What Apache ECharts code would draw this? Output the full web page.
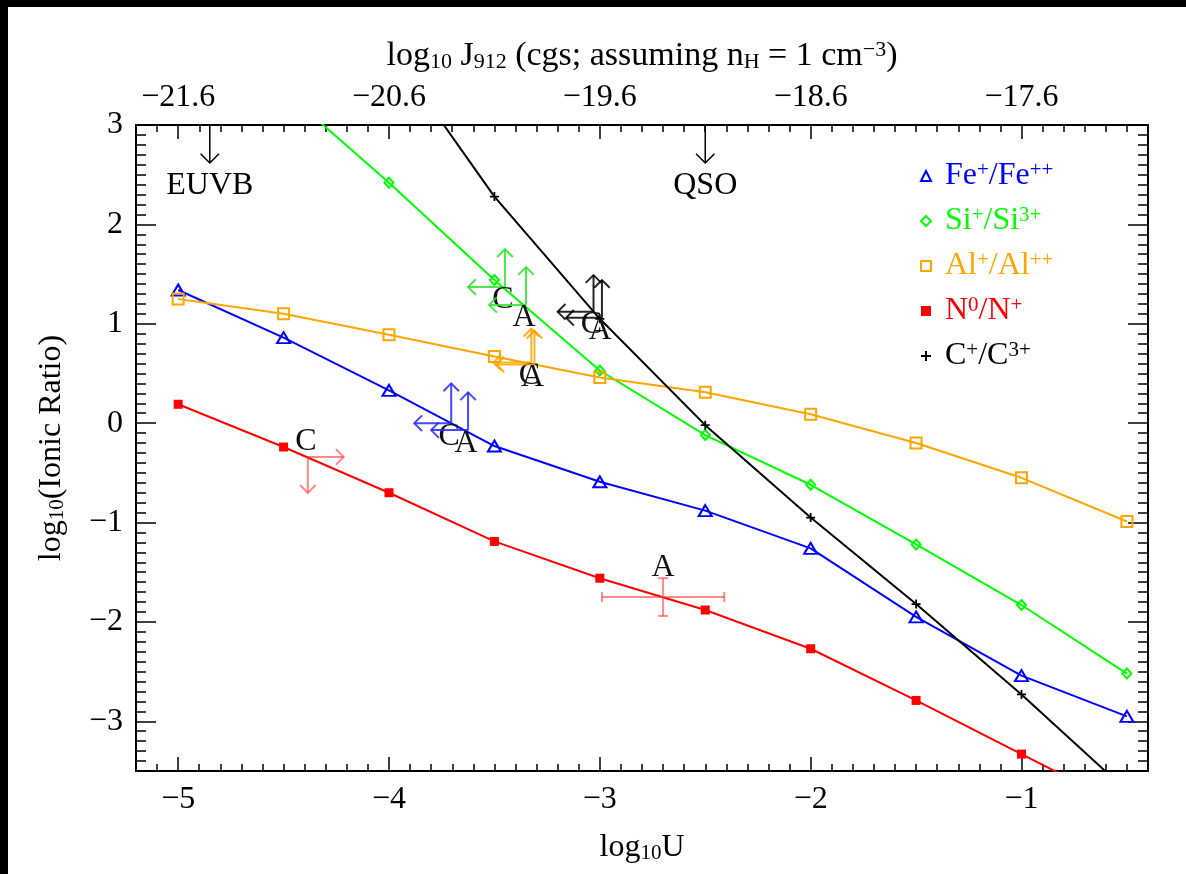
<!DOCTYPE html>
<html>
<head>
<meta charset="utf-8">
<script src="https://cdn.jsdelivr.net/npm/echarts@6/dist/echarts.min.js"></script>
<style>
  html, body { margin: 0; padding: 0; width: 1186px; height: 874px; background: #000; overflow: hidden; }
  #chart { position: absolute; left: 8px; top: 7px; width: 1178px; height: 867px; background: #fff; }
</style>
</head>
<body>
<div id="chart"></div>
<script>
// Ionisation parameter grid of the photoionisation models
const logU = [-5, -4.5, -4, -3.5, -3, -2.5, -2, -1.5, -1, -0.5];

// log10 of the ionic ratios predicted at each log U (null = not computed / off the plot)
const feRatio = [1.34, 0.86, 0.33, -0.23, -0.59, -0.88, -1.26, -1.95, -2.54, -2.95];
const siRatio = [null, 3.35, 2.42, 1.44, 0.53, -0.12, -0.62, -1.22, -1.83, -2.52];
const alRatio = [1.25, 1.10, 0.89, 0.67, 0.46, 0.31, 0.09, -0.20, -0.55, -0.99];
const nRatio  = [0.19, -0.24, -0.70, -1.19, -1.56, -1.88, -2.27, -2.79, -3.33, -3.87];
const cRatio  = [null, null, 3.78, 2.28, 1.05, -0.02, -0.95, -1.82, -2.73, -3.70];

// Observed limits for absorbers C and A: [logU, ratio, U-limit arrow, ratio-limit arrow]
const feLimits = [{ name: 'C', value: [-3.705, 0.00, -0.175, 0.40] }, { name: 'A', value: [-3.625, -0.07, -0.175, 0.38] }];
const siLimits = [{ name: 'C', value: [-3.45, 1.37, -0.175, 0.38] },  { name: 'A', value: [-3.35, 1.19, -0.175, 0.38] }];
const alLimits = [{ name: 'C', value: [-3.325, 0.61, -0.18, 0.34] },  { name: 'A', value: [-3.31, 0.59, -0.18, 0.34] }];
const cLimits  = [{ name: 'C', value: [-3.03, 1.12, -0.17, 0.37] },   { name: 'A', value: [-2.99, 1.06, -0.17, 0.38] }];
const nLimits  = [{ name: 'C', value: [-4.385, -0.34, 0.17, -0.36] }];
// Measured N0/N+ with errors: [logU, ratio, logU error, ratio error]
const nMeasure = [{ name: 'A', value: [-2.70, -1.75, 0.29, 0.19] }];

// Ionising-background reference values of log U
const sedMarks = [{ name: 'EUVB', value: -4.85 }, { name: 'QSO', value: -2.5 }];

// Axes
const uRange = [-5.2, -0.4];
const jRange = [-21.8, -17.0];
const ratioRange = [-3.5, 3];
const uTicks = [-5, -4, -3, -2, -1];
const jTicks = [-21.6, -20.6, -19.6, -18.6, -17.6];
const ratioTicks = [-3, -2, -1, 0, 1, 2, 3];

// Legend entries: [base, superscript, base, superscript]
const ionLabels = {
  Fe: ['Fe', '+', '/Fe', '++'],
  Si: ['Si', '+', '/Si', '3+'],
  Al: ['Al', '+', '/Al', '++'],
  N:  ['N', '0', '/N', '+'],
  C:  ['C', '+', '/C', '3+']
};

const FONT = '"Liberation Serif", "Times New Roman", serif';
const FS = 32, FS_SMALL = 21;
const colors = { Fe: '#0000ff', Si: '#00ff00', Al: '#ffa500', N: '#ff0000', C: '#000000' };
const limitColors = { Fe: 'rgba(40,40,255,0.85)', Si: 'rgba(40,230,40,0.85)', Al: 'rgba(255,165,0,0.85)', N: 'rgba(255,60,60,0.6)', C: 'rgba(0,0,0,0.85)' };
const plusPath = 'path://M4,0H6V4H10V6H6V10H4V6H0V4H4Z';

const minus = v => String(v).replace('-', '\u2212');

function richSet(size, small) {
  return {
    t: { fontFamily: FONT, fontSize: size, color: '#000', lineHeight: size },
    s: { fontFamily: FONT, fontSize: small, color: '#000', lineHeight: 14, verticalAlign: 'bottom' },
    p: { fontFamily: FONT, fontSize: small, color: '#000', lineHeight: 14, verticalAlign: 'top' }
  };
}
const textRich = richSet(FS, FS_SMALL);
const topTitleRich = richSet(34, 22);

const legendRich = {};
Object.keys(colors).forEach(k => {
  legendRich[k] = { fontFamily: FONT, fontSize: FS, color: colors[k], lineHeight: FS };
  legendRich[k + 'Sup'] = { fontFamily: FONT, fontSize: FS_SMALL, color: colors[k], lineHeight: 14, verticalAlign: 'top' };
});

const tickLine = { color: '#000', width: 1.5 };
const labelStyle = { color: '#000', fontFamily: FONT, fontSize: FS };

function majorAxis(pos, range, ticks, len, extra) {
  return Object.assign({
    type: 'value', position: pos, min: range[0], max: range[1],
    axisLine: { show: true, onZero: false, lineStyle: { color: '#000', width: 2 } },
    axisTick: { show: true, inside: true, length: len, customValues: ticks, lineStyle: tickLine },
    axisLabel: { show: false },
    splitLine: { show: false }
  }, extra || {});
}
function minorAxis(pos, range, len) {
  return {
    type: 'value', position: pos, min: range[0], max: range[1], interval: 0.1,
    axisLine: { show: false, onZero: false },
    axisTick: { show: true, inside: true, length: len, lineStyle: tickLine },
    axisLabel: { show: false },
    splitLine: { show: false }
  };
}

function arrow(from, to, color, width, head) {
  const dx = to[0] - from[0], dy = to[1] - from[1];
  const len = Math.hypot(dx, dy) || 1;
  const bx = -dx / len, by = -dy / len;
  const h = head || 11, c = Math.cos(Math.PI / 4), s = Math.sin(Math.PI / 4);
  const p1 = [to[0] + h * (bx * c - by * s), to[1] + h * (bx * s + by * c)];
  const p2 = [to[0] + h * (bx * c + by * s), to[1] + h * (-bx * s + by * c)];
  return [
    { type: 'line', shape: { x1: from[0], y1: from[1], x2: to[0], y2: to[1] }, style: { stroke: color, lineWidth: width } },
    { type: 'polyline', shape: { points: [p1, to, p2] }, style: { stroke: color, lineWidth: width, fill: null } }
  ];
}

function ionSeries(key, values, symbol, symbolSize, filled) {
  const color = colors[key];
  return {
    type: 'line', name: key,
    data: logU.map((u, i) => [u, values[i] === null ? '-' : values[i]]),
    xAxisIndex: 0, yAxisIndex: 0,
    symbol, symbolSize, showSymbol: true, clip: true,
    lineStyle: { color, width: 2 },
    itemStyle: filled ? { color } : { color: 'rgba(255,255,255,0)', borderColor: color, borderWidth: 2 },
    emphasis: { disabled: true }, silent: true, z: 3
  };
}

function limitSeries(key, data) {
  const color = limitColors[key];
  return {
    type: 'custom', xAxisIndex: 0, yAxisIndex: 0, silent: true, z: 5,
    data: data.map(d => d.value),
    renderItem(params, api) {
      const x = api.value(0), y = api.value(1), dx = api.value(2), dy = api.value(3);
      const o = api.coord([x, y]);
      const th = api.coord([x + dx, y]);
      const tv = api.coord([x, y + dy]);
      const off = dy > 0 ? 13 : -15;
      return {
        type: 'group',
        children: [
          ...arrow(o, th, color, 2),
          ...arrow(o, tv, color, 2),
          { type: 'text', x: o[0] - 2, y: o[1] + off,
            style: { text: data[params.dataIndex].name, fill: '#111', font: FS + 'px ' + FONT, align: 'center', verticalAlign: 'middle' } }
        ]
      };
    }
  };
}

const measureSeries = {
  type: 'custom', xAxisIndex: 0, yAxisIndex: 0, silent: true, z: 5,
  data: nMeasure.map(d => d.value),
  renderItem(params, api) {
    const x = api.value(0), y = api.value(1), ex = api.value(2), ey = api.value(3);
    const l = api.coord([x - ex, y]), r = api.coord([x + ex, y]);
    const t = api.coord([x, y + ey]), b = api.coord([x, y - ey]);
    const st = { stroke: limitColors.N, lineWidth: 2 };
    const cap = 5;
    return {
      type: 'group',
      children: [
        { type: 'line', shape: { x1: l[0], y1: l[1], x2: r[0], y2: r[1] }, style: st },
        { type: 'line', shape: { x1: t[0], y1: t[1], x2: b[0], y2: b[1] }, style: st },
        { type: 'line', shape: { x1: l[0], y1: l[1] - cap, x2: l[0], y2: l[1] + cap }, style: st },
        { type: 'line', shape: { x1: r[0], y1: r[1] - cap, x2: r[0], y2: r[1] + cap }, style: st },
        { type: 'line', shape: { x1: t[0] - cap, y1: t[1], x2: t[0] + cap, y2: t[1] }, style: st },
        { type: 'line', shape: { x1: b[0] - cap, y1: b[1], x2: b[0] + cap, y2: b[1] }, style: st },
        { type: 'text', x: t[0], y: t[1] - 11,
          style: { text: nMeasure[params.dataIndex].name, fill: '#111', font: FS + 'px ' + FONT, align: 'center', verticalAlign: 'middle' } }
      ]
    };
  }
};

const sedSeries = {
  type: 'custom', xAxisIndex: 0, yAxisIndex: 0, silent: true, z: 5,
  data: sedMarks.map(d => [d.value, ratioRange[1]]),
  renderItem(params, api) {
    const top = api.coord([api.value(0), api.value(1)]);
    const tip = [top[0], top[1] + 38];
    return {
      type: 'group',
      children: [
        ...arrow(top, tip, '#000', 1.5, 13),
        { type: 'text', x: top[0], y: top[1] + 61,
          style: { text: sedMarks[params.dataIndex].name, fill: '#000', font: FS + 'px ' + FONT, align: 'center', verticalAlign: 'middle' } }
      ]
    };
  }
};

const chart = echarts.init(document.getElementById('chart'), null, { renderer: 'canvas' });
chart.setOption({
  animation: false,
  backgroundColor: '#fff',
  grid: { left: 128, right: 38, top: 118, bottom: 103, containLabel: false },
  legend: {
    orient: 'vertical', left: 907, top: 148, itemGap: 13,
    itemWidth: 10, itemHeight: 10, selectedMode: false,
    data: [
      { name: 'Fe', icon: 'triangle' },
      { name: 'Si', icon: 'diamond' },
      { name: 'Al', icon: 'rect' },
      { name: 'N', icon: 'rect' },
      { name: 'C', icon: plusPath }
    ],
    formatter: name => {
      const p = ionLabels[name];
      return `{${name}|${p[0]}}{${name}Sup|${p[1]}}{${name}|${p[2]}}{${name}Sup|${p[3]}}`;
    },
    textStyle: { fontFamily: FONT, fontSize: FS, padding: [0, 0, 0, 9], rich: legendRich }
  },
  xAxis: [
    majorAxis('bottom', uRange, uTicks, 14, {
      axisLabel: Object.assign({ show: true, customValues: uTicks, formatter: minus, margin: 13 }, labelStyle),
      name: '{t|log}{s|10}{t|U}', nameLocation: 'middle', nameGap: 61,
      nameTextStyle: { rich: textRich }
    }),
    minorAxis('bottom', uRange, 7),
    majorAxis('top', jRange, jTicks, 14, {
      axisLabel: Object.assign({ show: true, customValues: jTicks, formatter: minus, margin: 11 }, labelStyle),
      name: '{t|log}{s|10}{t| J}{s|912}{t| (cgs; assuming n}{s|H}{t| = 1 cm}{p|\u22123}{t|)}',
      nameLocation: 'middle', nameGap: 52,
      nameTextStyle: { rich: topTitleRich }
    }),
    minorAxis('top', jRange, 7)
  ],
  yAxis: [
    majorAxis('left', ratioRange, ratioTicks, 20, {
      axisLabel: Object.assign({ show: true, customValues: ratioTicks, formatter: minus, margin: 13 }, labelStyle),
      name: '{t|log}{s|10}{t|(Ionic Ratio)}', nameLocation: 'middle', nameRotate: 90, nameGap: 68,
      nameTextStyle: { rich: textRich }
    }),
    minorAxis('left', ratioRange, 10),
    majorAxis('right', ratioRange, ratioTicks, 20),
    minorAxis('right', ratioRange, 10)
  ],
  series: [
    ionSeries('Fe', feRatio, 'triangle', [13, 11], false),
    ionSeries('Si', siRatio, 'diamond', [9, 10], false),
    ionSeries('Al', alRatio, 'rect', 11, false),
    ionSeries('N', nRatio, 'rect', 9, true),
    ionSeries('C', cRatio, plusPath, 9, true),
    limitSeries('Si', siLimits),
    limitSeries('C', cLimits),
    limitSeries('Al', alLimits),
    limitSeries('Fe', feLimits),
    limitSeries('N', nLimits),
    measureSeries,
    sedSeries
  ]
});
</script>
</body>
</html>
